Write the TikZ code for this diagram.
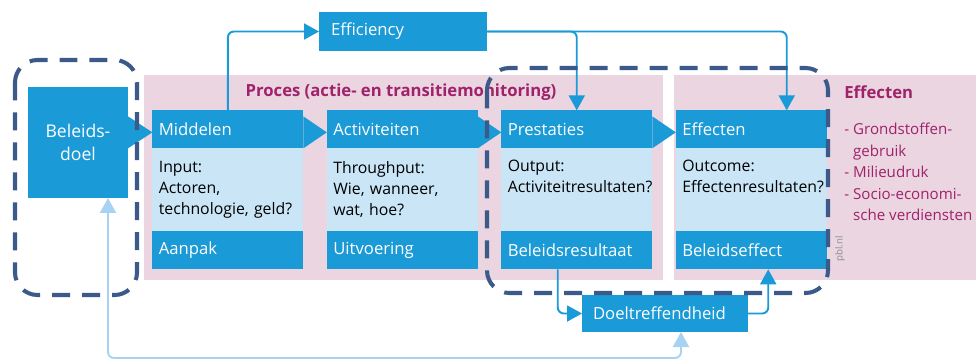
\documentclass[tikz,border=0pt]{standalone}
\usepackage{fontspec}
\setmainfont{Open Sans}
\usetikzlibrary{arrows.meta,positioning,matrix}
\definecolor{pblblauw}{HTML}{1A9AD6}
\definecolor{pbllicht}{HTML}{C9E5F6}
\definecolor{pblroze}{HTML}{EAD5E1}
\definecolor{pblpaars}{HTML}{A0226A}
\definecolor{pblkader}{HTML}{3B5A8A}
\definecolor{pblterug}{HTML}{A8D2F2}
\tikzset{
  stap/.style   ={rectangle, inner xsep=0.13cm, inner ysep=0pt, outer sep=0pt,
    text width=2.76cm, align=left},
  kop/.style    ={stap, fill=pblblauw, text=white, minimum height=0.76cm,
    font=\fontsize{9.5}{12}\selectfont},
  inhoud/.style ={stap, fill=pbllicht, text=black, minimum height=1.66cm,
    font=\fontsize{9}{12}\selectfont},
  blok/.style   ={rectangle, fill=pblblauw, text=white, inner sep=0pt, outer sep=0pt,
    font=\fontsize{9.5}{12}\selectfont},
  kopje/.style  ={inner sep=0pt, text=pblpaars, font=\fontsize{9.5}{12}\selectfont\bfseries},
  lijst/.style  ={inner sep=0pt, text=pblpaars, align=left, font=\fontsize{8.6}{12.2}\selectfont},
  pijl/.style   ={->, draw=pblblauw, line width=1.1pt, rounded corners=0.12cm},
  terug/.style  ={<->, draw=pblterug, line width=1.1pt, rounded corners=0.12cm},
  kader/.style  ={draw=pblkader, line width=2.3pt, dash pattern=on 0.36cm off 0.24cm,
    rounded corners=0.45cm}}
\tikzset{
  rows/.style 2 args={@/.style={row ##1/.style={#2}},@/.list={#1}},
}
\begin{document}
\begin{tikzpicture}[x=0.02cm, y=-0.02cm, >={Triangle[length=0.3cm,width=0.32cm]}]
\useasboundingbox (0,0) rectangle (976,362);

% achtergrond
\fill[pblroze] (144,75) rectangle (663,280);
\fill[pblroze] (674,75) rectangle (976,280);

\matrix[
  matrix of nodes,
  anchor=north west,
  inner sep=0pt,
  row sep=0pt,
  column sep=0.47cm,
  nodes={anchor=center},
  rows={1,3}{nodes=kop},
  rows={2}{nodes=inhoud}
] (m) at (152,110) {
Middelen & Activiteiten & Prestaties & Effecten \\
{Input:\\Actoren,\\technologie, geld?} & {Throughput:\\Wie, wanneer,\\wat, hoe?}
  & {Output:\\Activiteitresultaten?\\\strut} & {Outcome:\\Effectenresultaten?\\\strut} \\
Aanpak & Uitvoering & Beleidsresultaat & Beleidseffect \\
};

\node[blok, minimum width=2cm, minimum height=2.22cm, align=center,
  font=\fontsize{10}{13}\selectfont] (bd) at (78,142.5) {Beleids-\\doel};
\node[blok, minimum width=3.36cm, minimum height=0.78cm, inner xsep=0.24cm,
  text width=2.88cm, align=left] (eff) at (403,31.5) {Efficiency};
\node[blok, minimum width=3.32cm, minimum height=0.74cm, inner xsep=0.22cm,
  text width=2.88cm, align=left] (dt) at (665,313.5) {Doeltreffendheid};

\node[kopje] (proces) at (401,92) {Proces (actie- en transitiemonitoring)};
\node[kopje, anchor=west] (effkop) at (844,92) {Effecten};
\node[lijst, anchor=north west] (effect) at (844,123)
  {- Grondstoffen-\\\phantom{- }gebruik\\- Milieudruk\\- Socio-economi-\\\phantom{- }sche verdiensten};
\node[rotate=90, inner sep=0pt, text=black!45, font=\fontsize{5.5}{6}\selectfont] (bron) at (840,249) {pbl.nl};

% pijlpunten tussen de stappen
\foreach \a/\b in {1/2,2/3,3/4}
  \fill[pblblauw] (m-1-\a.south east) -- ++(0,-32) -- ([yshift=0.32cm]m-1-\b.south west) -- cycle;
\fill[pblblauw] (bd.east |- m-1-1.south) -- ++(0,-32) -- ([yshift=0.32cm]m-1-1.south west) -- cycle;

% verbindingen
\draw[pijl] (m-1-1.north) |- (eff.west);
\draw[pijl] (eff.east) -| (m-1-3.north);
\draw[pijl] (eff.east) -| ([xshift=-0.8cm]m-1-4.north east);
\draw[pijl] ([xshift=-0.38cm]m-3-3.south) |- (dt.west);
\draw[pijl] (dt.east) -| ([xshift=0.34cm]m-3-4.south);
\coordinate (onder) at (400,358);
\draw[terug] ([xshift=0.6cm]bd.south) |- (onder) -| ([xshift=0.32cm]dt.south);

% kaders
\draw[kader] (15,60) rectangle (137,295);
\draw[kader] (487,68) rectangle (828,293);
\end{tikzpicture}
\end{document}
